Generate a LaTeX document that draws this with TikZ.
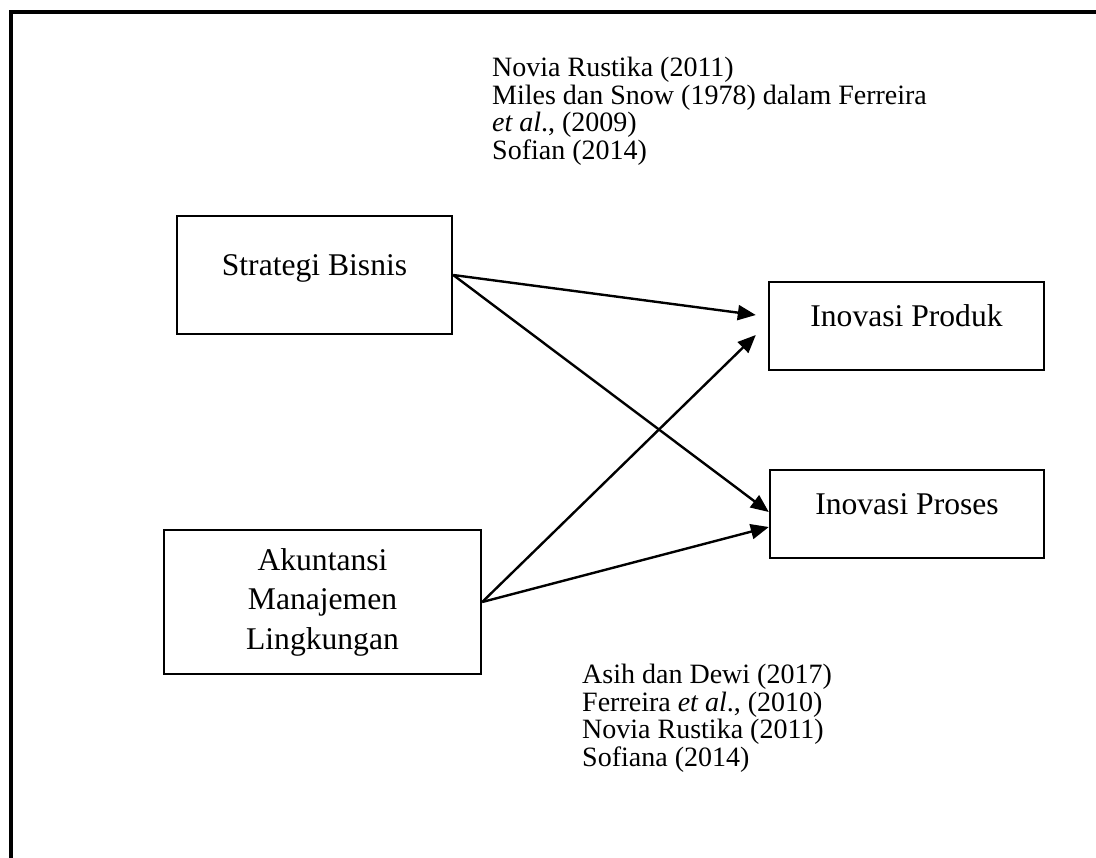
\documentclass[tikz,border=0pt]{standalone}
\usepackage{fontspec}
\setmainfont{Liberation Serif}
\usepackage{tikz}
\usetikzlibrary{arrows.meta}
\setlength{\lineskiplimit}{-100pt}

\begin{document}
\begin{tikzpicture}[x=0.5pt, y=-0.5pt, ->, >={Triangle[length=9pt, width=7.5pt]},
                    line width=1.2pt]
    \tikzstyle{var}=[draw, -, rectangle, line width=1.2pt, inner sep=0pt,
                     text height=9pt, text depth=9pt,
                     font=\fontsize{15.8}{19.75}\selectfont]
    \tikzstyle{ref}=[align=left, inner sep=0pt, anchor=north west,
                     font=\fontsize{14}{13.75}\selectfont]

    \useasboundingbox (0,0) rectangle (1096,857);
    \begin{scope}
        \clip (0,0) rectangle (1096,857);
        \draw[-, line width=1.7pt] (11,12) rectangle (1120,880);
    \end{scope}

    \node[var, minimum width=137.5pt, minimum height=59pt] (sb)  at (314.5,275) {Strategi Bisnis};
    \node[var, minimum width=137.5pt, minimum height=44pt] (ip)  at (906.5,326) {Inovasi Produk};
    \node[var, minimum width=137pt,   minimum height=44pt] (ipr) at (907,514)   {Inovasi Proses};
    \node[var, minimum width=158.5pt, minimum height=72pt, align=center,
          text height=, text depth=] (am) at (322.5,602) {Akuntansi\\Manajemen\\Lingkungan};

    \node[ref] (refa) at (491,56)  {Novia Rustika (2011)\\Miles dan Snow (1978) dalam Ferreira\\\textit{et al}., (2009)\\Sofian (2014)};
    \node[ref] (refb) at (581,663) {Asih dan Dewi (2017)\\Ferreira \textit{et al}., (2010)\\Novia Rustika (2011)\\Sofiana (2014)};

    \draw (sb.east) -- ([shift={(-12,-11)}]ip.west);
    \draw (sb.east) -- ([shift={(0,-2)}]ipr.west);
    \draw (am.east) -- ([shift={(-12,9)}]ip.west);
    \draw (am.east) -- ([shift={(0,13)}]ipr.west);
\end{tikzpicture}
\end{document}
